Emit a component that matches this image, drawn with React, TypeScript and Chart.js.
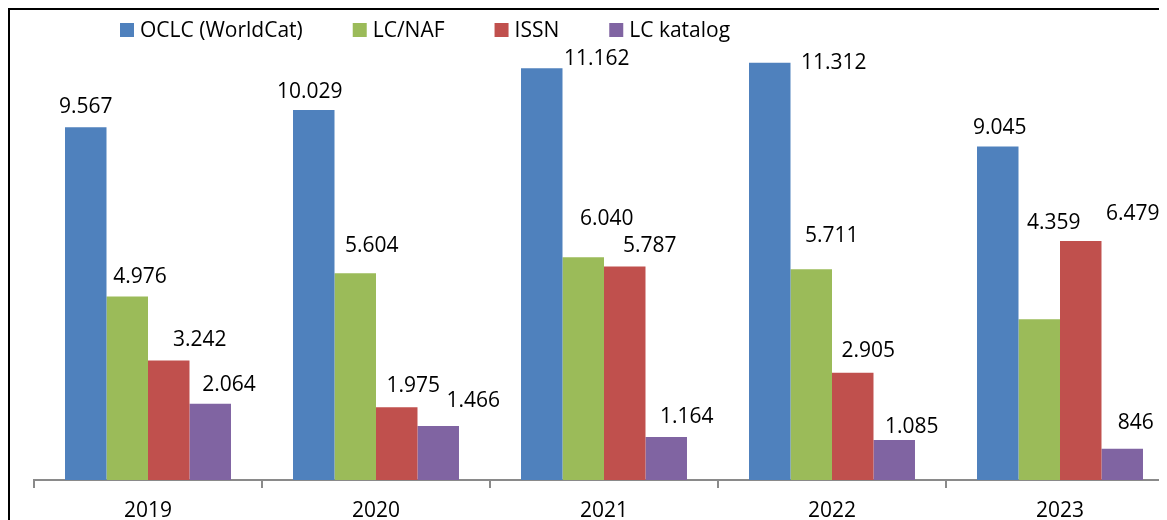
import React, { useEffect, useRef } from "react";
import { Chart, registerables } from "chart.js";

Chart.register(...registerables);

const years = ["2019", "2020", "2021", "2022", "2023"];
const seriesNames = ["OCLC (WorldCat)", "LC/NAF", "ISSN", "LC katalog"];
const oclc = [9567, 10029, 11162, 11312, 9045];
const lcNaf = [4976, 5604, 6040, 5711, 4359];
const issn = [3242, 1975, 5787, 2905, 6479];
const lcKatalog = [2064, 1466, 1164, 1085, 846];
const colors = ["#4F81BD", "#9BBB59", "#C0504D", "#8064A2"];

// manual label placement: [dx, dy] from bar top-center to label centre
const labelOffsets = [
  [[0, -21.5], [-4, -20], [55, -11], [64, -1.6], [2, -20]],
  [[12.75, -21], [16.5, -28.7], [23.5, -39.7], [20.5, -35], [14.5, -98]],
  [[31, -22], [16.5, -22.6], [25, -22], [15.5, -23], [52, -28.7]],
  [[18.75, -20.7], [35, -26.6], [20.5, -22], [17.5, -14.3], [13.5, -27.6]],
];

const FONT = "'Open Sans', sans-serif";
const FS = 21;

const fmt = (v: number) => String(v).replace(/\B(?=(\d{3})+(?!\d))/g, ".");

const labelPlugin = {
  id: "valueLabels",
  afterDatasetsDraw(chart: any) {
    const ctx = chart.ctx;
    ctx.save();
    ctx.font = `${FS}px ${FONT}`;
    ctx.fillStyle = "#000";
    ctx.textAlign = "center";
    ctx.textBaseline = "alphabetic";
    chart.data.datasets.forEach((ds: any, i: number) => {
      const meta = chart.getDatasetMeta(i);
      meta.data.forEach((bar: any, j: number) => {
        const [dx, dy] = labelOffsets[i][j];
        ctx.fillText(fmt(ds.data[j]), bar.x + dx, bar.y + dy + FS * 0.357);
      });
    });
    ctx.restore();
  },
};

const legendPlugin = {
  id: "customLegend",
  afterDraw(chart: any) {
    const ctx = chart.ctx;
    ctx.save();
    ctx.font = `${FS}px ${FONT}`;
    ctx.textBaseline = "alphabetic";
    ctx.textAlign = "left";
    let x = 110;
    const cy = 20;
    seriesNames.forEach((name, i) => {
      ctx.fillStyle = colors[i];
      ctx.fillRect(x, cy - 7, 14, 14);
      ctx.fillStyle = "#000";
      ctx.fillText(name, x + 20, cy + FS * 0.357);
      x += 20 + ctx.measureText(name).width + 50;
    });
    ctx.restore();
  },
};

export default function App() {
  const ref = useRef<HTMLCanvasElement>(null);
  useEffect(() => {
    document.documentElement.style.overflow = "hidden";
    document.body.style.overflow = "hidden";
    const seriesData = [oclc, lcNaf, issn, lcKatalog];
    const chart = new Chart(ref.current!, {
      type: "bar",
      data: {
        labels: years,
        datasets: seriesData.map((d, i) => ({
          label: seriesNames[i],
          data: d,
          backgroundColor: colors[i],
          borderWidth: 0,
          categoryPercentage: 0.728,
          barPercentage: 1,
        })),
      },
      options: {
        responsive: false,
        animation: false,
        layout: { padding: { left: 24, right: 6, top: 27.4, bottom: 0 } },
        plugins: { legend: { display: false }, tooltip: { enabled: false } },
        scales: {
          y: { display: false, min: 0, max: 12000 },
          x: {
            afterFit: (s: any) => {
              s.height = 50;
            },
            border: { display: true, color: "#8a8a8a", width: 2 },
            grid: {
              offset: true,
              drawOnChartArea: false,
              drawTicks: true,
              tickLength: 8,
              color: "#8a8a8a",
              lineWidth: 2,
            },
            ticks: {
              color: "#000",
              font: { family: FONT, size: FS },
              padding: 10,
              maxRotation: 0,
            },
          },
        },
      },
      plugins: [labelPlugin, legendPlugin],
    });
    return () => chart.destroy();
  }, []);
  return (
    <div
      style={{
        border: "2px solid #000",
        width: 1170,
        height: 520,
        boxSizing: "content-box",
      }}
    >
      <canvas ref={ref} width={1170} height={520} style={{ display: "block" }} />
    </div>
  );
}
